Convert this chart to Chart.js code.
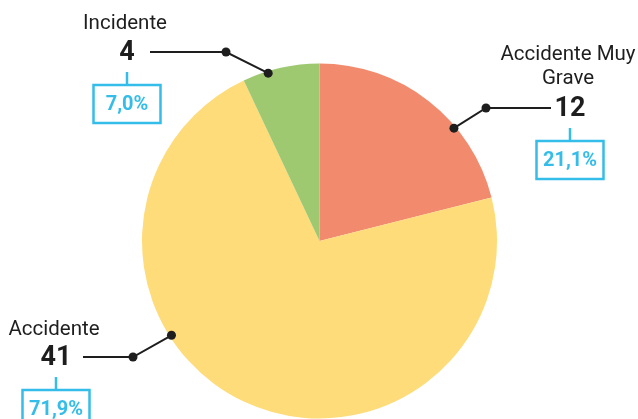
<!DOCTYPE html>
<html>
<head>
<meta charset="utf-8">
<script src="https://cdn.jsdelivr.net/npm/chart.js@4"></script>
<style>
  html, body { margin: 0; padding: 0; background: #fff; }
  #wrap { width: 638px; height: 419px; position: relative; }
</style>
</head>
<body>
<div id="wrap"><canvas id="chartPie"></canvas></div>
<script>
// ===== DATA =====
const categories = ['Accidente Muy Grave', 'Accidente', 'Incidente'];
const counts = [12, 41, 4];
const percents = ['21,1%', '71,9%', '7,0%'];
const sliceColors = ['#f28b6e', '#fedc7a', '#9ec971'];

// label placement per slice (angle on rim in degrees clockwise from top, label anchor)
const labelSpots = [
  { angle: 50, elbow: [486, 108], lineEnd: 551, numX: 570, numY: 108, title: ['Accidente Muy', 'Grave'], titleY: 55 },
  { angle: 237.5, elbow: [133, 357], lineEnd: 83, numX: 56, numY: 357, title: ['Accidente'], titleY: 330 },
  { angle: 343, elbow: [226, 52], lineEnd: 150, numX: 127, numY: 52, title: ['Incidente'], titleY: 24 }
];

const FONT = "Roboto, 'Open Sans', sans-serif";

/* ------------------------------
   LEADER LINES + LABELS
--------------------------------*/
const calloutPlugin = {
  id: 'callouts',
  afterDatasetsDraw(chart) {
    const ctx = chart.ctx;
    const arcs = chart.getDatasetMeta(0).data;

    arcs.forEach((arc, i) => {
      const spot = labelSpots[i];
      const a = (spot.angle - 90) * Math.PI / 180;
      const rimX = arc.x + Math.cos(a) * (arc.outerRadius - 2);
      const rimY = arc.y + Math.sin(a) * (arc.outerRadius - 2);
      const [ex, ey] = spot.elbow;

      ctx.save();
      ctx.strokeStyle = '#1e1e1e';
      ctx.fillStyle = '#1e1e1e';
      ctx.lineWidth = 2;
      ctx.beginPath();
      ctx.moveTo(rimX, rimY);
      ctx.lineTo(ex, ey);
      ctx.lineTo(spot.lineEnd, ey);
      ctx.stroke();
      [[rimX, rimY], [ex, ey]].forEach(([x, y]) => {
        ctx.beginPath();
        ctx.arc(x, y, 4.5, 0, Math.PI * 2);
        ctx.fill();
      });

      // category name
      ctx.textAlign = 'center';
      ctx.textBaseline = 'middle';
      ctx.font = `20.5px ${FONT}`;
      spot.title.forEach((t, k) => ctx.fillText(t, spot.numX - 2, spot.titleY + k * 24));

      // count
      ctx.font = `bold 27px ${FONT}`;
      ctx.fillText(String(counts[i]), spot.numX, spot.numY + 1);

      // percent box
      const boxTop = spot.numY + 33, boxW = 67, boxH = 38;
      ctx.strokeStyle = '#35bde9';
      ctx.fillStyle = '#35bde9';
      ctx.lineWidth = 2.5;
      ctx.beginPath();
      ctx.moveTo(spot.numX, spot.numY + 20);
      ctx.lineTo(spot.numX, boxTop);
      ctx.stroke();
      ctx.strokeRect(spot.numX - boxW / 2, boxTop, boxW, boxH);
      ctx.font = `bold 20px ${FONT}`;
      ctx.fillText(percents[i], spot.numX, boxTop + boxH / 2 + 1);
      ctx.restore();
    });
  }
};

const chartPie = new Chart(document.getElementById('chartPie').getContext('2d'), {
  type: 'pie',
  data: {
    labels: categories,
    datasets: [{
      data: counts,
      backgroundColor: sliceColors,
      borderWidth: 0
    }]
  },
  options: {
    responsive: true,
    maintainAspectRatio: false,
    animation: false,
    layout: { padding: { top: 63, bottom: 0, left: 142, right: 141 } },
    plugins: {
      legend: { display: false },
      tooltip: { enabled: false }
    }
  },
  plugins: [calloutPlugin]
});
</script>
</body>
</html>
